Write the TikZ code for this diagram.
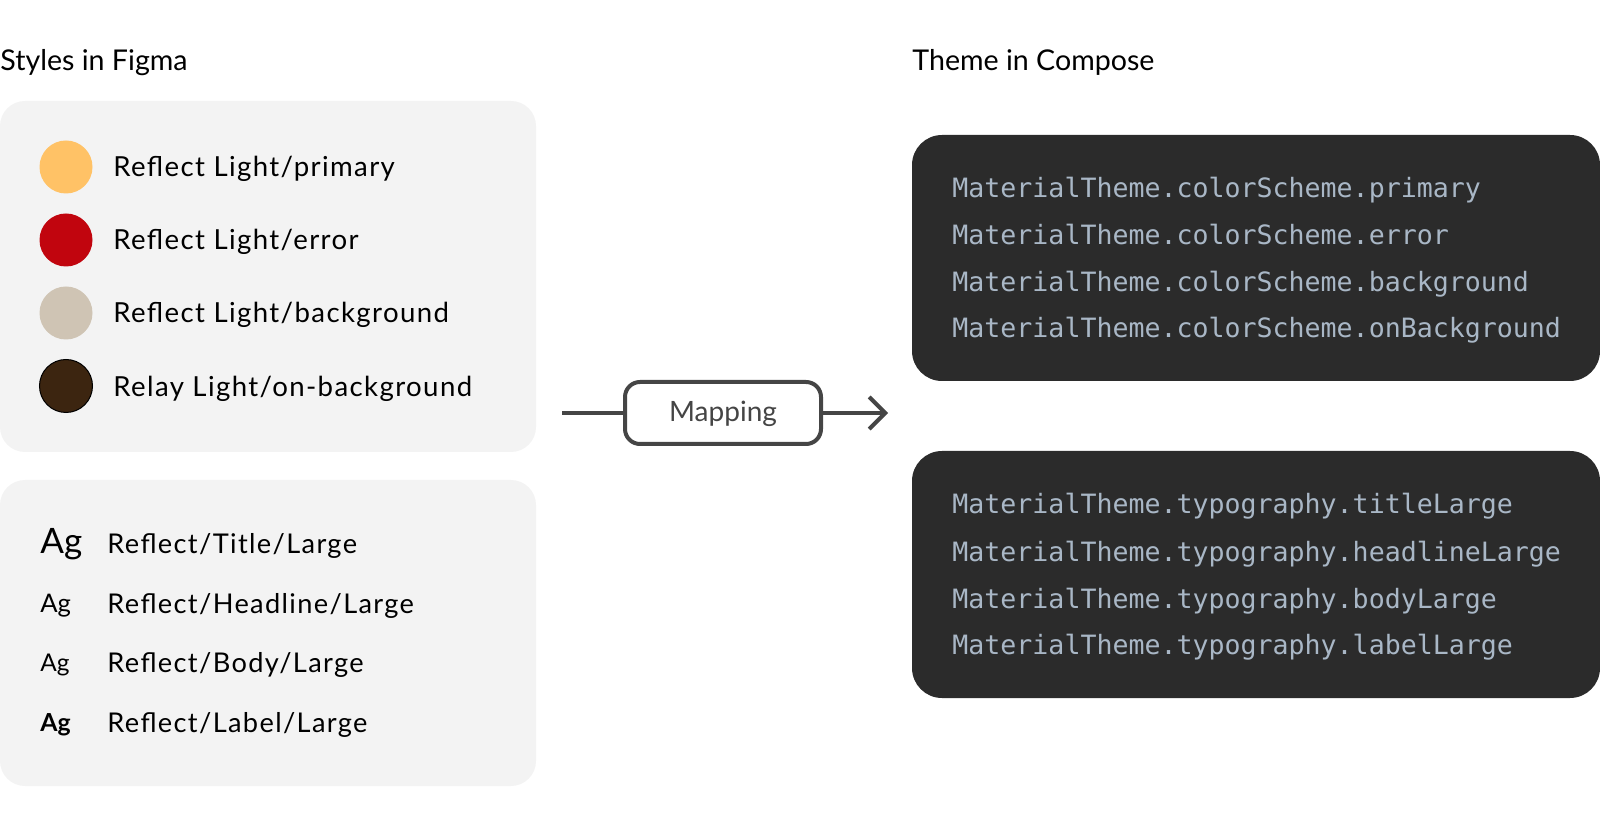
\documentclass[tikz,border=0pt]{standalone}
\usepackage{fontspec}
\setmainfont{Lato}
\newfontfamily\trackfont[LetterSpace=5]{Lato}
\newfontfamily\codefont{DejaVu Sans Mono}
\usetikzlibrary{arrows.meta,positioning}
\definecolor{panelgray}{HTML}{F3F3F3}
\definecolor{codebg}{HTML}{2B2B2B}
\definecolor{codefg}{HTML}{A9B7C6}
\definecolor{linegray}{HTML}{454545}
\definecolor{swprimary}{HTML}{FFC266}
\definecolor{swerror}{HTML}{C1050E}
\definecolor{swback}{HTML}{CFC4B4}
\definecolor{swonback}{HTML}{3C2510}
\tikzset{
  heading/.style={anchor=base west,inner sep=0pt,font=\fontsize{14.3}{17}\selectfont},
  panel/.style={fill=panelgray,rounded corners=12.5pt},
  codepanel/.style={fill=codebg,rounded corners=15pt},
  swatch/.style={circle,minimum size=26.5pt,inner sep=0pt},
  swlabel/.style={anchor=base west,inner sep=0pt,font=\trackfont\fontsize{13.8}{16}\selectfont},
  aglabel/.style={anchor=base west,inner sep=0pt,font=\trackfont\fontsize{13.6}{16}\selectfont},
  agmark/.style={anchor=base west,inner sep=0pt},
  codeline/.style={anchor=base west,inner sep=0pt,text=codefg,font=\codefont\fontsize{13.3}{16}\selectfont},
  mapbox/.style={draw=linegray,line width=2pt,rounded corners=7.5pt,fill=white,
    minimum width=98pt,minimum height=31pt,font=\fontsize{14}{16}\selectfont,text=linegray},
  flow/.style={draw=linegray,line width=2pt}
}

\begin{document}
\begin{tikzpicture}[x=0.5pt,y=-0.5pt,>={Straight Barb[length=8pt,width=16pt]}]
  \useasboundingbox (0,0) rectangle (1600,833);
  % headings
  \node[heading] (figma) at (0,71) {Styles in Figma};
  \node[heading] (compose) at (912,71) {Theme in Compose};

  % figma side
  \fill[panel] (0,101) rectangle (536,452);
  \fill[panel] (0,480) rectangle (536,786);

  \node[swatch,fill=swprimary] (sw1) at (66,167) {};
  \node[swatch,fill=swerror] (sw2) at (66,240) {};
  \node[swatch,fill=swback] (sw3) at (66,313) {};
  \node[swatch,fill=swonback,draw=black,line width=0.5pt] (sw4) at (66,386) {};
  \node[swlabel] (lab1) at (113,177) {Reflect Light/primary};
  \node[swlabel] (lab2) at (113,250) {Reflect Light/error};
  \node[swlabel] (lab3) at (113,323) {Reflect Light/background};
  \node[swlabel] (lab4) at (113,397) {Relay Light/on-background};

  \node[agmark,font=\fontsize{17.5}{20}\selectfont] (ag1) at (40,553) {Ag};
  \node[agmark,font=\fontsize{12.8}{15}\selectfont] (ag2) at (40,612) {Ag};
  \node[agmark,font=\fontsize{12.2}{14}\selectfont] (ag3) at (40,671) {Ag};
  \node[agmark,font=\bfseries\fontsize{12.4}{14}\selectfont] (ag4) at (40,731) {Ag};
  \node[aglabel] (type1) at (107,553) {Reflect/Title/Large};
  \node[aglabel] (type2) at (107,613) {Reflect/Headline/Large};
  \node[aglabel] (type3) at (107,672) {Reflect/Body/Large};
  \node[aglabel] (type4) at (107,732) {Reflect/Label/Large};

  % mapping
  \coordinate (mapin) at (562,413);
  \coordinate (mapout) at (888,413);
  \node[mapbox,text depth=2pt] (mapping) at (723,413) {Mapping};
  \draw[flow] (mapin) -- (mapping);
  \draw[flow,->] (mapping) -- (mapout);

  % compose side
  \fill[codepanel] (912,135) rectangle (1600,381);
  \fill[codepanel] (912,451) rectangle (1600,698);

  \node[codeline] (cs1) at (952,198) {MaterialTheme.colorScheme.primary};
  \node[codeline] (cs2) at (952,245) {MaterialTheme.colorScheme.error};
  \node[codeline] (cs3) at (952,292) {MaterialTheme.colorScheme.background};
  \node[codeline] (cs4) at (952,338) {MaterialTheme.colorScheme.onBackground};
  \node[codeline] (ty1) at (952,514) {MaterialTheme.typography.titleLarge};
  \node[codeline] (ty2) at (952,561) {MaterialTheme.typography.headlineLarge};
  \node[codeline] (ty3) at (952,608) {MaterialTheme.typography.bodyLarge};
  \node[codeline] (ty4) at (952,654) {MaterialTheme.typography.labelLarge};
\end{tikzpicture}
\end{document}
